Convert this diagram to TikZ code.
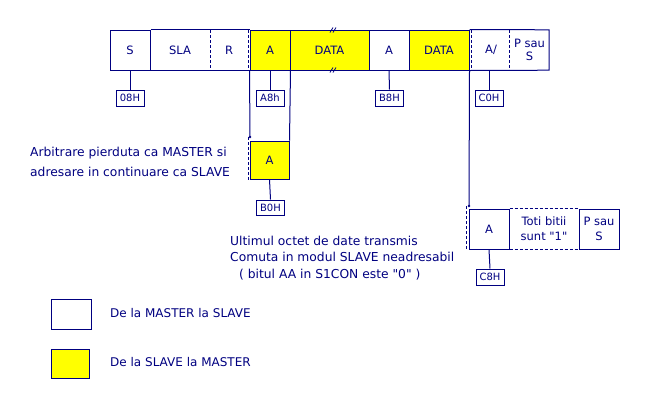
\documentclass[tikz,border=0pt]{standalone}
\usepackage{fontspec}
\setmainfont{DejaVu Sans}[Ligatures=TeXOff]
\definecolor{navy}{RGB}{0,0,128}
\definecolor{yel}{RGB}{255,255,0}

\begin{document}
\begin{tikzpicture}[x=1pt, y=-1pt,
    every node/.style={text=navy, font=\fontsize{12}{14}\selectfont},
    line/.style={draw=navy, line width=1pt},
    dline/.style={line, dash pattern=on 3pt off 2pt},
    fld/.style={rectangle, minimum height=40pt, inner sep=0pt,
        font=\fontsize{11.5}{13}\selectfont},
    box/.style={fld, line},
    ybox/.style={box, fill=yel},
    tag/.style={line, rectangle, minimum width=28pt, minimum height=16pt,
        inner sep=0pt, font=\fontsize{10}{11}\selectfont}]
    \useasboundingbox (0,0) rectangle (650,400);

    % top row
    \node[box, minimum width=40pt] (s) at (130,50) {S};
    \node[fld, minimum width=60pt] (sla) at (180,50) {SLA};
    \node[fld, minimum width=38pt] (r) at (229,50) {R};
    \node[ybox, minimum width=40pt] (a1) at (270,50) {A};
    \node[ybox, minimum width=79pt] (data1) at (329.5,50) {DATA};
    \node[box, minimum width=40pt] (a2) at (389,50) {A};
    \node[ybox, minimum width=60pt] (data2) at (439,50) {DATA};
    \node[fld, minimum width=38pt] (anack) at (491,50) {A/};
    \node[fld, minimum width=39pt, align=center,
        font=\fontsize{11.5}{12.5}\selectfont] (ps1) at (529.5,50) {P sau\\S};

    \draw[line] (s.north east) -- (a1.north west);
    \draw[line] (s.south east) -- (a1.south west);
    \draw[dline] (sla.north east) -- (sla.south east);
    \draw[dline] (r.north east) -- (r.south east);
    \draw[line] (data2.north east) -- (ps1.north east)
        -- (ps1.south east) -- (data2.south east);
    \draw[dline] (anack.north west) -- (anack.south west);
    \draw[dline] (ps1.north west) -- (ps1.south west);

    \foreach \dx in {0,3} {
        \draw[navy, line width=0.8pt] (330+\dx,32.5) -- (333+\dx,27.5);
        \draw[navy, line width=0.8pt] (330+\dx,72.5) -- (333+\dx,67.5);
    }

    \node[tag] (t08) at (130,98) {08H};
    \draw[line] (s.south) -- (t08.north);
    \node[tag] (ta8) at (270,98) {A8h};
    \draw[line] (a1.south) -- (ta8.north);
    \node[tag] (tb8) at (389.5,98) {B8H};
    \draw[line] (a2.south) -- (tb8.north);
    \node[tag] (tc0) at (489,98) {C0H};
    \draw[line] (tc0.north |- anack.south) -- (tc0.north);

    % arbitrare pierduta
    \node[ybox, minimum width=39pt, minimum height=38pt] (a3) at (269.5,160) {A};
    \coordinate (arb) at (250,137);
    \draw[line] (a1.south west) -- (arb);
    \fill[navy] (arb) circle (1.3pt);
    \draw[dline] ([xshift=-2pt]arb) -- ([xshift=-2pt]arb |- a3.south);
    \draw[line] (a1.south east) -- (a3.north east);
    \node[tag, minimum height=15pt] (tb0) at (270.5,207.5) {B0H};
    \draw[line] (a3.south) -- (tb0.north);
    \node[anchor=west, align=left, inner sep=0pt, font=\fontsize{12.3}{20}\selectfont] (arbtxt)
        at (30,162) {Arbitrare pierduta ca MASTER si\\adresare in continuare ca SLAVE};

    % ultimul octet
    \node[box, minimum width=40pt] (a4) at (489,229) {A};
    \node[fld, minimum width=70pt, align=center,
        font=\fontsize{11.5}{15}\selectfont] (toti) at (544,229) {Toti bitii\\sunt "1"};
    \node[box, minimum width=40pt, align=center,
        font=\fontsize{11.5}{15}\selectfont] (ps2) at (599,229) {P sau\\S};
    \draw[dline] (a4.north east) -- (ps2.north west);
    \draw[dline] (a4.south east) -- (ps2.south west);
    \coordinate (nack) at (469,206);
    \draw[line] (data2.south east) -- (nack);
    \fill[navy] (nack) circle (1.3pt);
    \draw[dline] ([xshift=-2.5pt]nack) -- ([xshift=-2.5pt]nack |- a4.south);
    \node[tag] (tc8) at (490,277) {C8H};
    \draw[line] (a4.south) -- (tc8.north);
    \node[anchor=west, align=left, inner sep=0pt, font=\fontsize{12.3}{16.5}\selectfont] (ulttxt)
        at (230,258) {Ultimul octet de date transmis\\Comuta in modul SLAVE neadresabil\\
        \hspace*{9pt}( bitul AA in S1CON este "0" )};

    % legend
    \node[box, minimum width=40pt, minimum height=30pt] (leg1) at (71,314) {};
    \node[anchor=west, inner sep=0pt] (leg1txt) at (110,313) {De la MASTER la SLAVE};
    \node[ybox, minimum width=38pt, minimum height=29pt] (leg2) at (70,363.5) {};
    \node[anchor=west, inner sep=0pt] (leg2txt) at (110,362) {De la SLAVE la MASTER};
\end{tikzpicture}
\end{document}
